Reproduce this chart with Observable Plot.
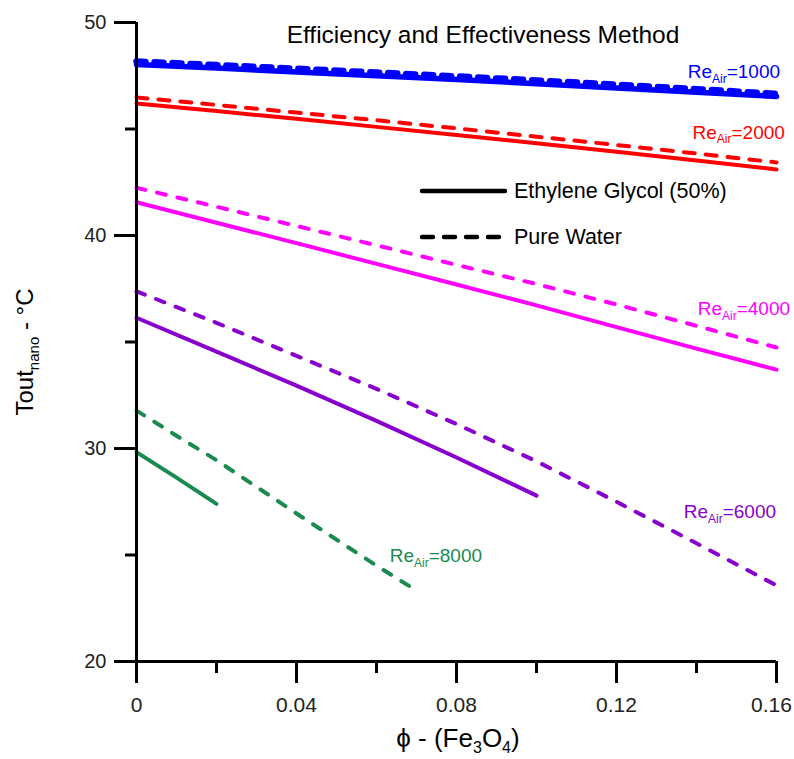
<!DOCTYPE html>
<html>
<head>
<meta charset="utf-8">
<script src="https://cdn.jsdelivr.net/npm/d3@7"></script>
<script src="https://cdn.jsdelivr.net/npm/@observablehq/plot@0.6"></script>
<style>
  html, body { margin: 0; padding: 0; background: #fff; }
  #chart svg { display: block; }
</style>
</head>
<body>
<div id="chart"></div>
<script>
// ---------- data ----------
const phiFull   = [0, 0.02, 0.04, 0.06, 0.08, 0.10, 0.12, 0.14, 0.16];
const phiTo010  = [0, 0.02, 0.04, 0.06, 0.08, 0.10];
const phiTo007  = [0, 0.01, 0.02, 0.03, 0.04, 0.05, 0.06, 0.07];
const phiTo002  = [0, 0.01, 0.02];

const eg1000 = [48.03, 47.86, 47.68, 47.50, 47.32, 47.13, 46.93, 46.73, 46.53];
const w1000  = [48.17, 48.00, 47.83, 47.65, 47.47, 47.28, 47.08, 46.87, 46.65];
const eg2000 = [46.20, 45.84, 45.48, 45.10, 44.72, 44.33, 43.93, 43.52, 43.10];
const w2000  = [46.48, 46.13, 45.77, 45.41, 45.03, 44.64, 44.25, 43.85, 43.43];
const eg4000 = [41.56, 40.60, 39.64, 38.67, 37.70, 36.72, 35.70, 34.69, 33.70];
const w4000  = [42.24, 41.35, 40.45, 39.54, 38.62, 37.72, 36.76, 35.76, 34.74];
const eg6000 = [36.14, 34.55, 32.95, 31.30, 29.58, 27.79];
const w6000  = [37.38, 35.90, 34.35, 32.80, 31.15, 29.40, 27.50, 25.55, 23.57];
const eg8000 = [29.83, 28.63, 27.40];
const w8000  = [31.78, 30.60, 29.45, 28.20, 26.95, 25.72, 24.50, 23.33];

const reynolds   = [1000, 2000, 4000, 6000, 8000];
const reColors   = ["#0000ff", "#ff0000", "#ff00ff", "#8800cc", "#1a8a52"];
const fluids     = ["Ethylene Glycol (50%)", "Pure Water"];
const reLabels   = ["ReAir=1000", "ReAir=2000", "ReAir=4000", "ReAir=6000", "ReAir=8000"];
const reLabelPhi = [0.1378, 0.1390, 0.1403, 0.1368, 0.0633];
const reLabelT   = [47.70, 44.84, 36.57, 27.00, 24.98];

const xTicks      = [0, 0.04, 0.08, 0.12];
const xLastTick   = [0.16];
const xMinorTicks = [0.02, 0.06, 0.10, 0.14];
const yTicks      = [20, 30, 40, 50];
const yMinorTicks = [25, 35, 45];
const titleText   = "Efficiency and Effectiveness Method";

// ---------- tidy series ----------
const series = [
  {re: 1000, fluid: fluids[0], phi: phiFull, T: eg1000},
  {re: 1000, fluid: fluids[1], phi: phiFull, T: w1000},
  {re: 2000, fluid: fluids[0], phi: phiFull, T: eg2000},
  {re: 2000, fluid: fluids[1], phi: phiFull, T: w2000},
  {re: 4000, fluid: fluids[0], phi: phiFull, T: eg4000},
  {re: 4000, fluid: fluids[1], phi: phiFull, T: w4000},
  {re: 6000, fluid: fluids[0], phi: phiTo010, T: eg6000},
  {re: 6000, fluid: fluids[1], phi: phiFull, T: w6000},
  {re: 8000, fluid: fluids[0], phi: phiTo002, T: eg8000},
  {re: 8000, fluid: fluids[1], phi: phiTo007, T: w8000}
];

const colorOf = re => reColors[reynolds.indexOf(re)];
const widthOf = (re, fluid) => re === 1000 ? (fluid === fluids[1] ? 6.5 : 5.5) : 4;
const dashOf = (re, fluid) => {
  if (fluid === fluids[0]) return null;
  if (re === 1000) return "9,9";
  if (re === 2000) return "11,11";
  return "9,12";
};

const lineMarks = series.map(s => {
  const rows = s.phi.map((p, i) => ({phi: p, T: s.T[i]}));
  return Plot.line(rows, {
    x: "phi", y: "T",
    stroke: colorOf(s.re),
    strokeWidth: widthOf(s.re, s.fluid),
    strokeDasharray: dashOf(s.re, s.fluid),
    strokeLinecap: "round",
    strokeLinejoin: "round"
  });
});

const labelRows = reLabels.map((t, i) => ({text: t, phi: reLabelPhi[i], T: reLabelT[i], color: reColors[i]}));

const FONT = "'Liberation Sans', Arial, Helvetica, sans-serif";

const chart = Plot.plot({
  width: 794,
  height: 759,
  marginLeft: 136,
  marginRight: 18,
  marginTop: 22,
  marginBottom: 98,
  style: {fontFamily: FONT, fontSize: "20px", background: "#fff", color: "#000", overflow: "visible"},
  x: {domain: [0, 0.16]},
  y: {domain: [20, 50]},
  marks: [
    ...lineMarks,
    Plot.text(labelRows, {
      x: "phi", y: "T", text: "text", fill: d => d.color,
      textAnchor: "start", lineAnchor: "middle", fontSize: 19
    }),
    Plot.axisX(xTicks, {tickSize: 22, tickPadding: 14, strokeWidth: 3, fontSize: 21, label: null,
      tickFormat: d => String(d), fill: "#222"}),
    Plot.axisX(xLastTick, {tickSize: 22, strokeWidth: 3, label: null, tickFormat: () => ""}),
    Plot.axisX(xLastTick, {tickSize: 0, tickPadding: 36, fontSize: 21, label: null,
      tickFormat: d => String(d), fill: "#222", dx: -5}),
    Plot.axisX(xMinorTicks, {tickSize: 12, strokeWidth: 3, label: null, tickFormat: () => ""}),
    Plot.axisY(yTicks, {tickSize: 22, tickPadding: 8, strokeWidth: 3, fontSize: 20, label: null,
      tickFormat: d => String(d), fill: "#222"}),
    Plot.axisY(yMinorTicks, {tickSize: 11, strokeWidth: 3, label: null, tickFormat: () => ""}),
    Plot.ruleY([20], {strokeWidth: 3}),
    Plot.ruleX([0], {strokeWidth: 3})
  ]
});

document.getElementById("chart").appendChild(chart);

// ---------- rich text helpers ----------
const NS = "http://www.w3.org/2000/svg";
function richText(el, parts, subSize, shift) {
  while (el.firstChild) el.removeChild(el.firstChild);
  let prevSub = false;
  parts.forEach(([str, sub]) => {
    const ts = document.createElementNS(NS, "tspan");
    ts.textContent = str;
    if (sub && !prevSub) ts.setAttribute("dy", shift);
    if (!sub && prevSub) ts.setAttribute("dy", -shift);
    if (sub) ts.setAttribute("font-size", subSize);
    el.appendChild(ts);
    prevSub = sub;
  });
}

chart.querySelectorAll("text").forEach(el => {
  if (el.children.length > 0) return;
  const m = el.textContent.match(/^(Re)(Air)(=.*)$/);
  if (m) richText(el, [[m[1], false], [m[2], true], [m[3], false]], 12, 5);
});

function addText(attrs, parts, subSize, shift) {
  const t = document.createElementNS(NS, "text");
  t.setAttribute("text-anchor", "start");
  for (const k in attrs) t.setAttribute(k, attrs[k]);
  t.setAttribute("font-family", FONT);
  richText(t, parts, subSize, shift);
  chart.appendChild(t);
  return t;
}

// title
addText({x: 483, y: 43, "text-anchor": "middle", "font-size": 24.5, fill: "#000"}, [[titleText, false]], 14, 0);

// y axis label
addText({transform: "translate(33,352) rotate(-90)", "text-anchor": "middle", "font-size": 24, fill: "#000"},
  [["Tout", false], ["nano", true], [" - °C", false]], 15, 6);

// x axis label
addText({x: 458, y: 747, "text-anchor": "middle", "font-size": 26, fill: "#000"},
  [["ϕ - (Fe", false], ["3", true], ["O", false], ["4", true], [")", false]], 16, 6);

// legend
const legendDash = [null, "11,11"];
fluids.forEach((f, i) => {
  const y = 191 + i * 46;
  const ln = document.createElementNS(NS, "line");
  ln.setAttribute("x1", 422); ln.setAttribute("x2", 505);
  ln.setAttribute("y1", y); ln.setAttribute("y2", y);
  ln.setAttribute("stroke", "#000"); ln.setAttribute("stroke-width", 4.5);
  ln.setAttribute("stroke-linecap", "round");
  if (legendDash[i]) ln.setAttribute("stroke-dasharray", legendDash[i]);
  chart.appendChild(ln);
  addText({x: 514, y: y + 7, "text-anchor": "start", "font-size": 21.5, fill: "#000"}, [[f, false]], 14, 0);
});
</script>
</body>
</html>
